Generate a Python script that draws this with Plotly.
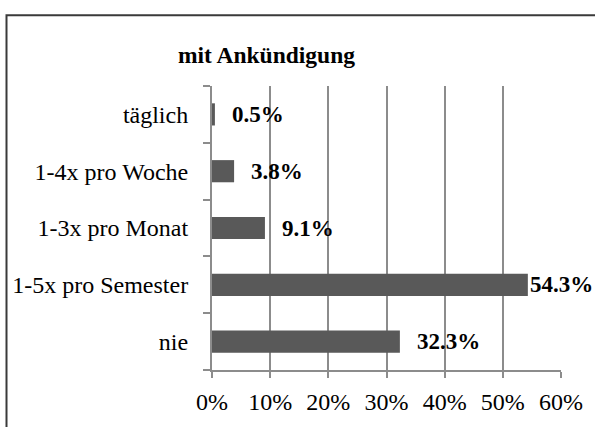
import plotly.graph_objects as go

categories = ["nie", "1-5x pro Semester", "1-3x pro Monat", "1-4x pro Woche", "täglich"]
values = [0.323, 0.543, 0.091, 0.038, 0.005]
labels = ["32.3%", "54.3%", "9.1%", "3.8%", "0.5%"]
x_ticks = [0, 0.1, 0.2, 0.3, 0.4, 0.5, 0.6]
x_tick_text = ["0%", "10%", "20%", "30%", "40%", "50%", "60%"]
title_text = "mit Ankündigung"

W, H = 595, 427
L, R, T, B = 212, 561, 86, 377
pw, ph = R - L, B - T

FONT = "Liberation Serif, Times New Roman, serif"
AXC = "#8c8c8c"

fig = go.Figure()
fig.add_trace(go.Bar(
    y=categories, x=values, orientation="h",
    marker=dict(color="#595959", line=dict(width=0)),
    width=0.39, hoverinfo="skip",
))

shifts = [15 if v < 0.5 else 0 for v in values]
for c, v, t, s in zip(categories, values, labels, shifts):
    fig.add_annotation(x=v, y=c, text="<b>%s</b>" % t, showarrow=False,
                       xanchor="left", yanchor="middle", xshift=s,
                       font=dict(family=FONT, size=23, color="#000000"))

fig.add_annotation(x=(266 - L) / pw, y=(B - 54) / ph, xref="paper", yref="paper",
                   text="<b>%s</b>" % title_text, showarrow=False,
                   xanchor="center", yanchor="middle",
                   font=dict(family=FONT, size=23.5, color="#000000"))

fig.add_shape(type="rect", xref="paper", yref="paper",
              x0=(6.5 - L) / pw, x1=1.3, y0=-0.4, y1=(B - 13.5) / ph,
              line=dict(color="#3a3a3a", width=2), fillcolor="rgba(0,0,0,0)", layer="below")

fig.update_layout(
    width=W, height=H,
    margin=dict(l=L, r=W - R, t=T, b=H - B, pad=0),
    paper_bgcolor="#ffffff", plot_bgcolor="#ffffff",
    showlegend=False, bargap=0.61,
    font=dict(family=FONT, size=24, color="#000000"),
    xaxis=dict(range=[0, 0.6], tickvals=x_ticks, ticktext=x_tick_text,
               showgrid=True, gridcolor=AXC, gridwidth=2,
               showline=True, linecolor=AXC, linewidth=2,
               ticks="outside", ticklen=6, tickcolor=AXC, tickwidth=2,
               ticklabelstandoff=3,
               zeroline=False, fixedrange=True,
               tickfont=dict(family=FONT, size=24, color="#000000")),
    yaxis=dict(categoryorder="array", categoryarray=categories,
               range=[-0.5, 4.5], tickson="boundaries",
               showgrid=False, showline=True, linecolor=AXC, linewidth=2,
               ticks="outside", ticklen=7, tickcolor=AXC, tickwidth=2,
               ticklabelstandoff=17, zeroline=False, fixedrange=True,
               tickfont=dict(family=FONT, size=24, color="#000000")),
)

fig.write_html("out.html",
               config={"displayModeBar": False, "staticPlot": True},
               post_script="document.body.style.margin='0';document.body.style.padding='0';document.body.style.overflow='hidden';")
